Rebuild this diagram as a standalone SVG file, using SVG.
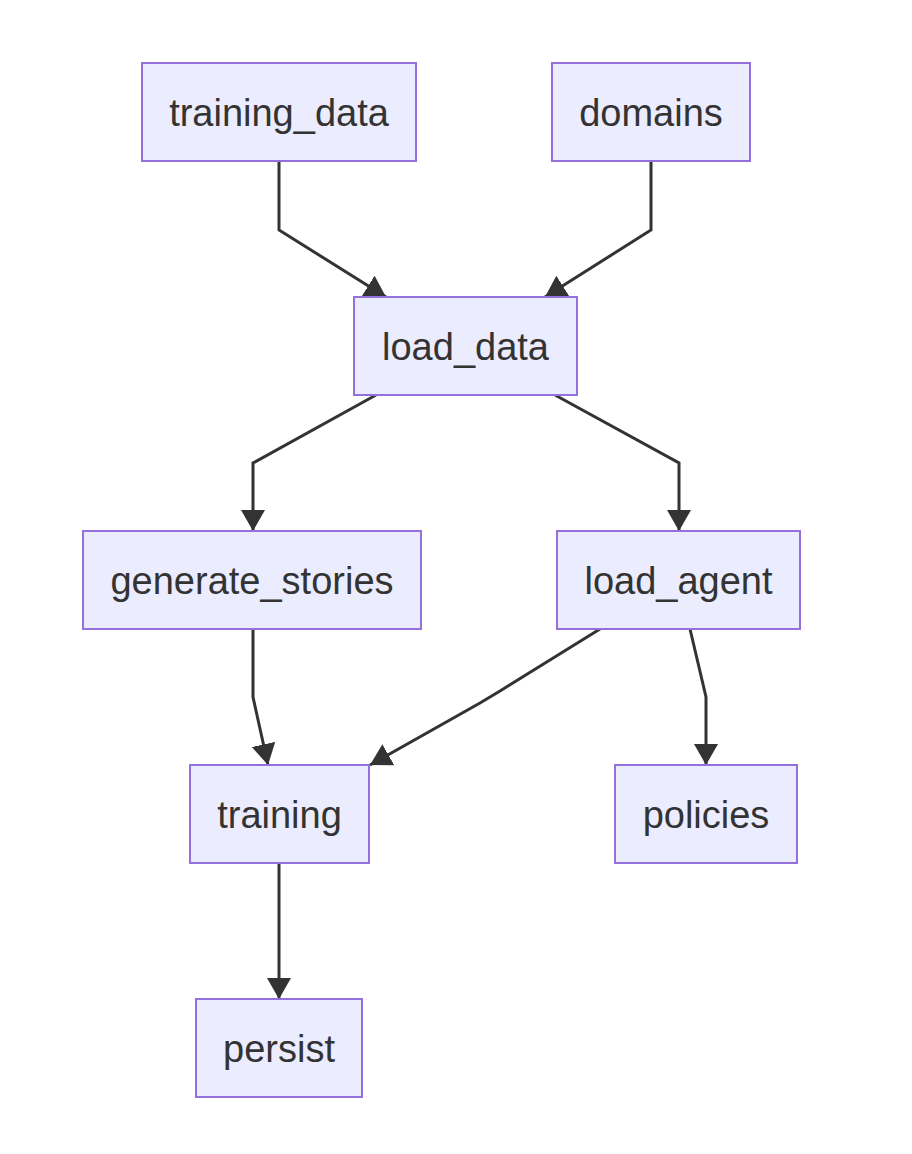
<svg xmlns="http://www.w3.org/2000/svg" width="912" height="1154" viewBox="0 0 912 1154">
<style>
.node rect{fill:#ECECFF;stroke:#9370DB;stroke-width:2}
.node text{font-family:"Liberation Sans",Arial,sans-serif;font-size:38px;fill:#333;text-anchor:middle;dominant-baseline:central}
.edge{fill:none;stroke:#333;stroke-width:3;marker-end:url(#arrow)}
</style>
<defs>
<marker id="arrow" markerUnits="userSpaceOnUse" markerWidth="24" markerHeight="26" refX="21" refY="12" orient="auto">
<path d="M0,0 L21,12 L0,24 z" fill="#333"/>
</marker>
</defs>
<rect width="912" height="1154" fill="#fff"/>
<g id="connectors">
<path class="edge" d="M279,161 L279,230 L386,297"/>
<path class="edge" d="M651,161 L651,230 L545,297"/>
<path class="edge" d="M376,395 L253,463 L253,531"/>
<path class="edge" d="M555,395 L679,463 L679,531"/>
<path class="edge" d="M253,629 L253,697 L268,765"/>
<path class="edge" d="M600,629 L500,691 Q490,697 480,703 L370,765"/>
<path class="edge" d="M690,629 L706,697 L706,765"/>
<path class="edge" d="M279,863 L279,999"/>
</g>
<g id="training_data" class="node"><rect x="142" y="63" width="274" height="98"/><text x="279" y="113">training_data</text></g>
<g id="domains" class="node"><rect x="552" y="63" width="198" height="98"/><text x="651" y="113">domains</text></g>
<g id="load_data" class="node"><rect x="354" y="297" width="223" height="98"/><text x="465.5" y="347">load_data</text></g>
<g id="generate_stories" class="node"><rect x="83" y="531" width="338" height="98"/><text x="252" y="581">generate_stories</text></g>
<g id="load_agent" class="node"><rect x="557" y="531" width="243" height="98"/><text x="678.5" y="581">load_agent</text></g>
<g id="training" class="node"><rect x="190" y="765" width="179" height="98"/><text x="279.5" y="815">training</text></g>
<g id="policies" class="node"><rect x="615" y="765" width="182" height="98"/><text x="706" y="815">policies</text></g>
<g id="persist" class="node"><rect x="196" y="999" width="166" height="98"/><text x="279" y="1049">persist</text></g>
</svg>
